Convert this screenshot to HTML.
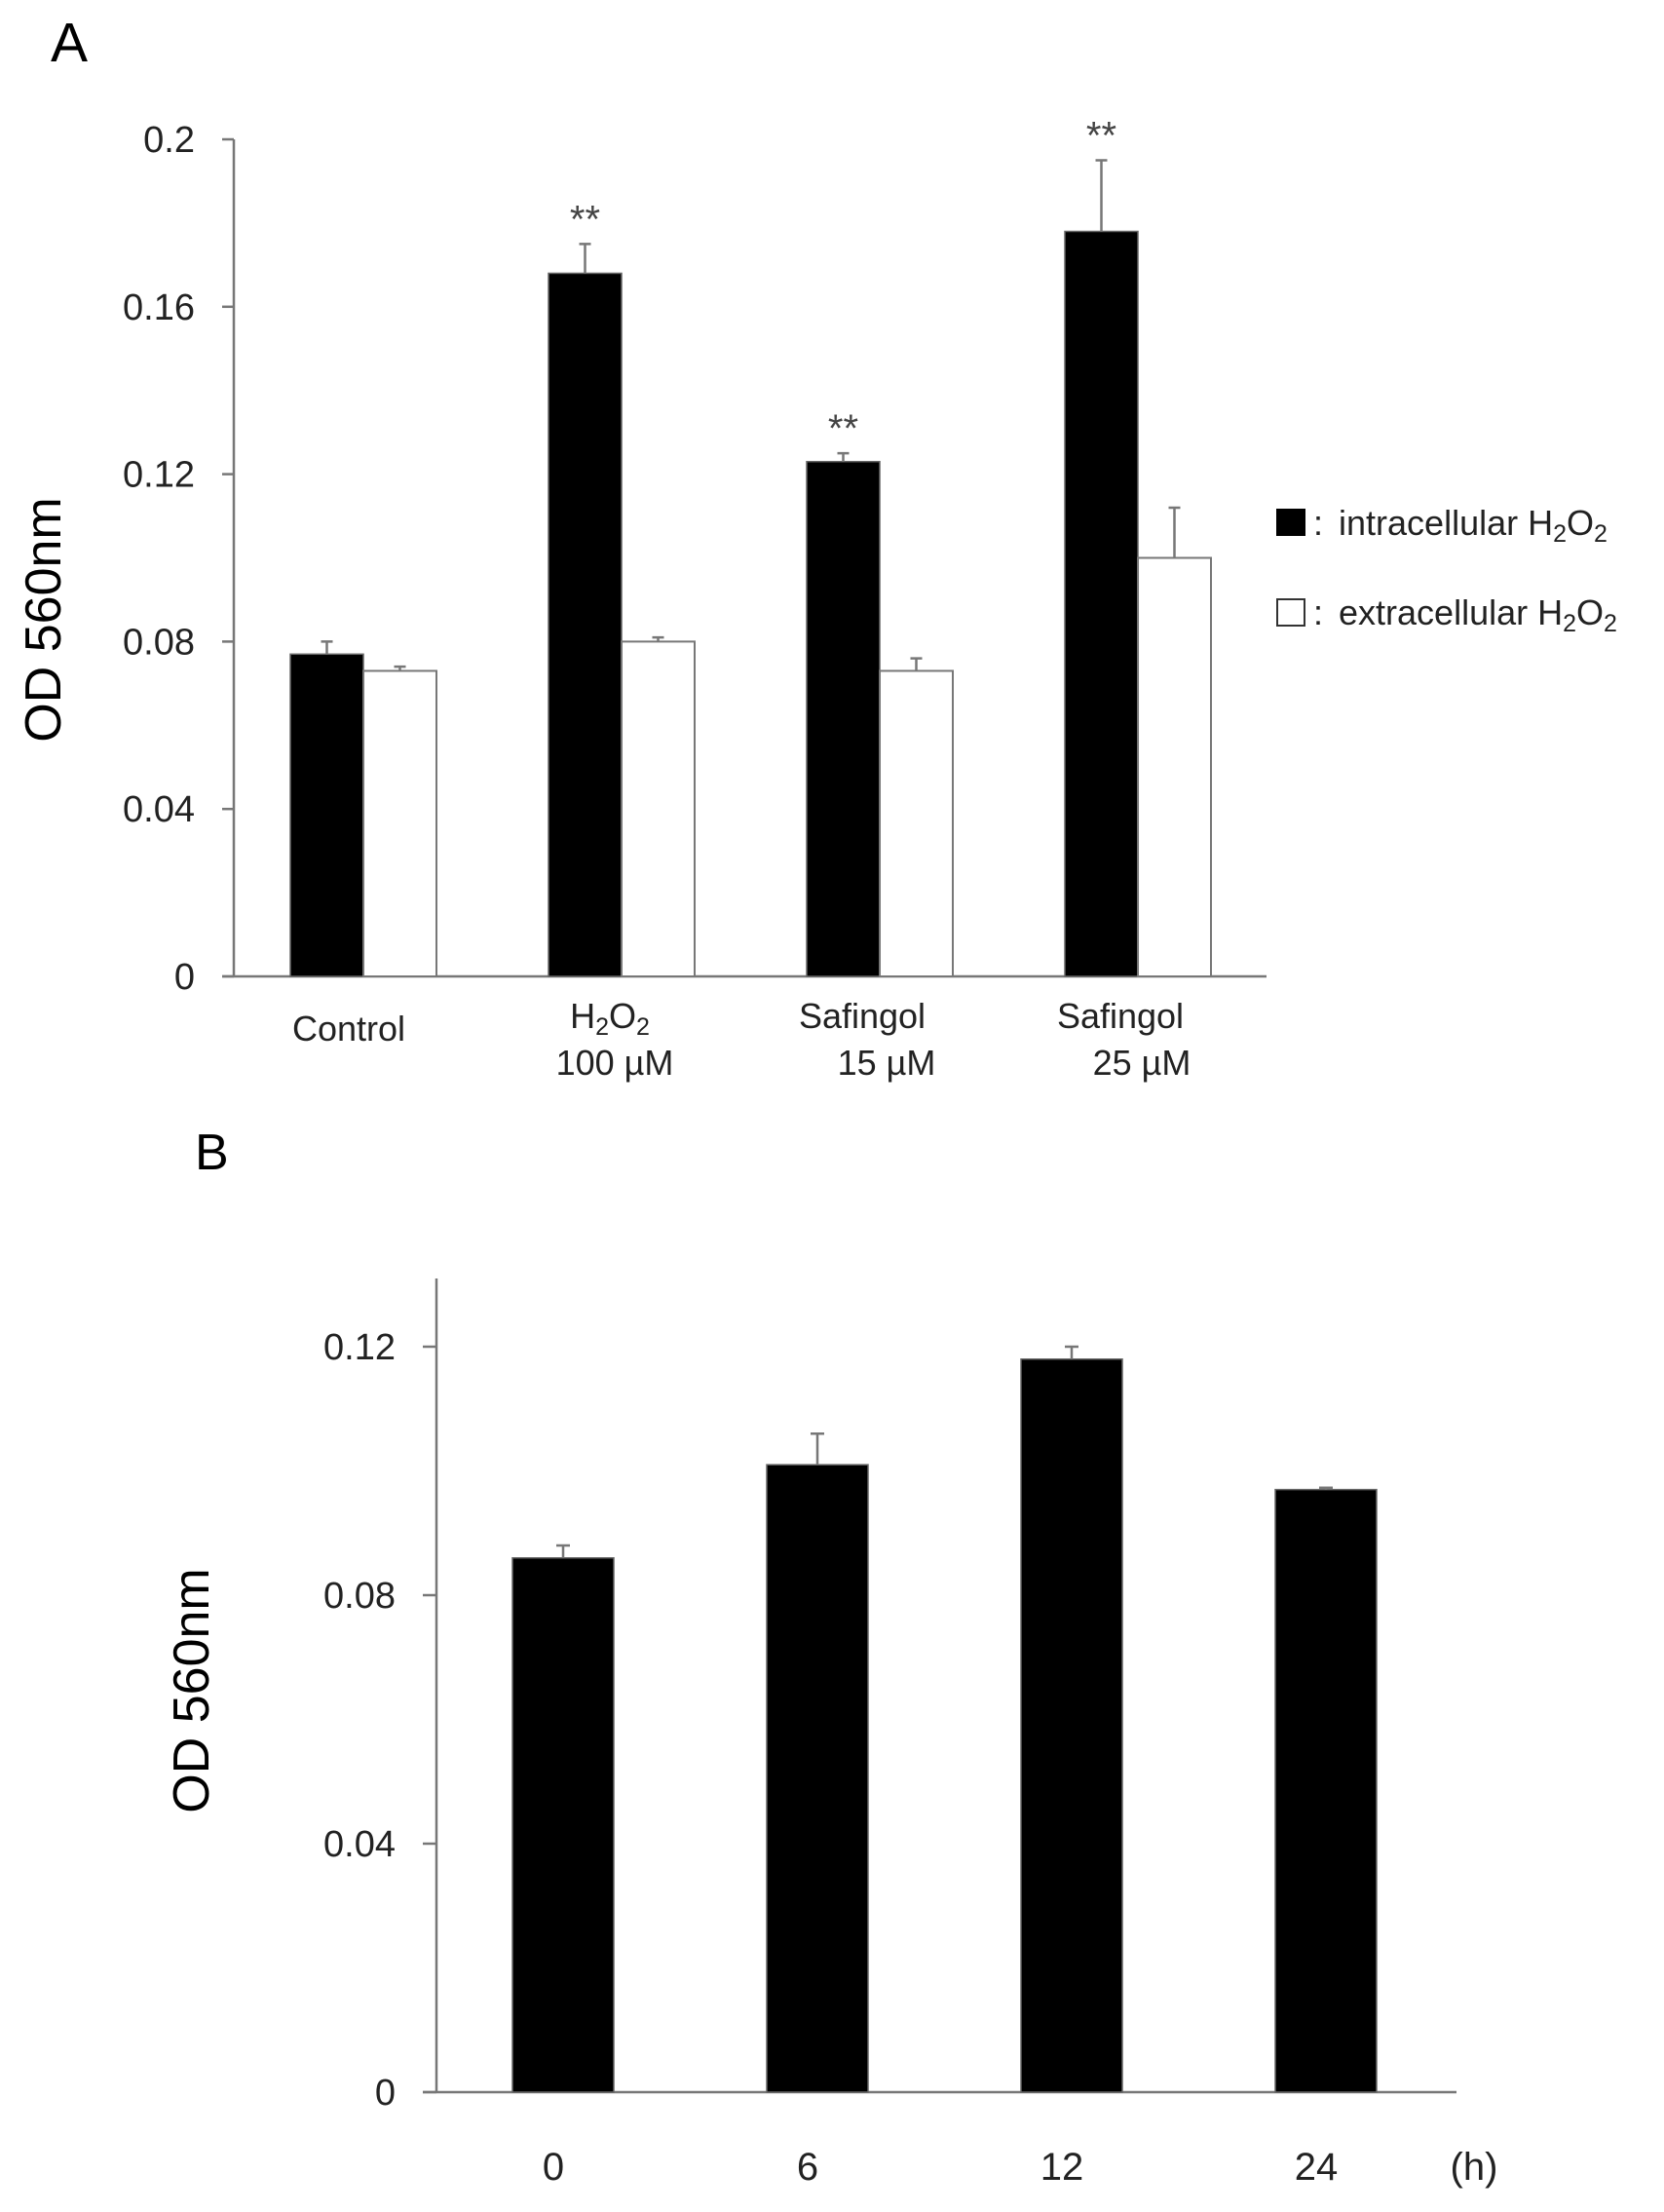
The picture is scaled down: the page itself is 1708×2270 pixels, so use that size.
<!DOCTYPE html>
<html><head><meta charset="utf-8"><style>
html,body{margin:0;padding:0;background:#fff;}
svg{display:block;font-family:"Liberation Sans",Arial,sans-serif;}
</style></head><body>
<svg id="fig" width="1708" height="2270" viewBox="0 0 1708 2270" xmlns="http://www.w3.org/2000/svg">
<text x="52" y="63" font-size="57">A</text>
<text x="200" y="1200" font-size="52">B</text>
<text transform="translate(62,636) rotate(-90)" font-size="52" text-anchor="middle">OD 560nm</text>
<text transform="translate(214,1735) rotate(-90)" font-size="52" text-anchor="middle">OD 560nm</text>
<g id="gA"></g>
<g id="gB"></g>
<g>
<g>
<rect x="1310" y="522" width="30" height="28" fill="#000"/>
<text x="1348" y="549" font-size="36" fill="#222">: <tspan dx="6">intracellular H</tspan><tspan font-size="25" dy="7">2</tspan><tspan dy="-7">O</tspan><tspan font-size="25" dy="7">2</tspan></text>
</g>
<g>
<rect x="1311" y="615" width="28" height="27" fill="#fff" stroke="#333" stroke-width="2"/>
<text x="1348" y="641" font-size="36" fill="#222">: <tspan dx="6">extracellular H</tspan><tspan font-size="25" dy="7">2</tspan><tspan dy="-7">O</tspan><tspan font-size="25" dy="7">2</tspan></text>
</g>
</g>
</svg>
<script>
// ---- Chart A data ----
const catsA = ["Control","H2O2 100 µM","Safingol 15 µM","Safingol 25 µM"];
const intraA = [0.077,0.168,0.123,0.178];
const intraErrA = [0.003,0.007,0.002,0.017];
const extraA = [0.073,0.080,0.073,0.100];
const extraErrA = [0.001,0.001,0.003,0.012];
const sigA = ["","**","**","**"];
const ticksA = [0,0.04,0.08,0.12,0.16,0.2];
const tickLabelsA = ["0","0.04","0.08","0.12","0.16","0.2"];
// ---- Chart B data ----
const catsB = ["0","6","12","24"];
const valsB = [0.086,0.101,0.118,0.097];
const errB = [0.002,0.005,0.002,0.0003];
const ticksB = [0,0.04,0.08,0.12];
const tickLabelsB = ["0","0.04","0.08","0.12"];

const NS="http://www.w3.org/2000/svg";
function mk(tag,attrs,parent){const e=document.createElementNS(NS,tag);for(const k in attrs)e.setAttribute(k,attrs[k]);parent.appendChild(e);return e;}

// Chart A
(function(){
  const g=document.getElementById('gA');
  const x0=240,xEnd=1300,yZero=1002,yTop=143,vMax=0.2;
  const y=v=>yZero-(v/vMax)*(yZero-yTop);
  const cx=i=>373+i*265;
  const bw=75;
  let a=mk('line',{x1:x0,y1:yTop,x2:x0,y2:yZero,stroke:'#777','stroke-width':2.5},g);
  
  a=mk('line',{x1:x0-12,y1:yZero,x2:xEnd,y2:yZero,stroke:'#777','stroke-width':2.5},g);
  
  ticksA.forEach((t,i)=>{
    const tk=mk('line',{x1:x0-12,y1:y(t),x2:x0,y2:y(t),stroke:'#777','stroke-width':2.5},g);
    
    const tl=mk('text',{x:200,y:y(t)+13,'font-size':38,'text-anchor':'end',fill:'#222'},g);
    tl.textContent=tickLabelsA[i];
    
  });
  catsA.forEach((c,i)=>{
    const b=mk('rect',{x:cx(i)-bw,y:y(intraA[i]),width:bw,height:yZero-y(intraA[i]),fill:'#000',stroke:'#666','stroke-width':1.5},g);
    
    const w=mk('rect',{x:cx(i),y:y(extraA[i]),width:bw,height:yZero-y(extraA[i]),fill:'#fff',stroke:'#777','stroke-width':2},g);
    
    [[cx(i)-bw/2,intraA[i],intraErrA[i]],[cx(i)+bw/2,extraA[i],extraErrA[i]]].forEach(([ex,v,e])=>{
      const eb=mk('path',{d:`M${ex},${y(v)} V${y(v+e)} M${ex-6},${y(v+e)} H${ex+6}`,stroke:'#777','stroke-width':2.5,fill:'none'},g);
      
    });
    if(sigA[i]){
      const s=mk('text',{x:cx(i)-bw/2,y:y(intraA[i]+intraErrA[i])-12,'font-size':40,'text-anchor':'middle',fill:'#444'},g);
      s.textContent=sigA[i];
      
    }
  });
  const lab=(txt,x,yy,name)=>{const t=mk('text',{x:x,y:yy,'font-size':36,'text-anchor':'middle',fill:'#222'},g);t.textContent=txt;return t;};
  lab('Control',358,1068,'x-label-control');
  const h=mk('text',{x:626,y:1055,'font-size':36,'text-anchor':'middle',fill:'#222'},g);
  h.innerHTML='H<tspan font-size="25" dy="7">2</tspan><tspan dy="-7">O</tspan><tspan font-size="25" dy="7">2</tspan>';
  
  lab('100 µM',631,1103,'x-label-h2o2-dose');
  lab('Safingol',885,1055,'x-label-safingol-15');
  lab('15 µM',910,1103,'x-label-safingol-15-dose');
  lab('Safingol',1150,1055,'x-label-safingol-25');
  lab('25 µM',1172,1103,'x-label-safingol-25-dose');
})();

// Chart B
(function(){
  const g=document.getElementById('gB');
  const x0=448,xEnd=1495,yZero=2147,y12=1382,yTop=1312;
  const y=v=>yZero-(v/0.12)*(yZero-y12);
  const cx=i=>578+i*261;
  const bw=104;
  let a=mk('line',{x1:x0,y1:yTop,x2:x0,y2:yZero,stroke:'#777','stroke-width':2.5},g);
  
  a=mk('line',{x1:x0-14,y1:yZero,x2:xEnd,y2:yZero,stroke:'#777','stroke-width':2.5},g);
  
  ticksB.forEach((t,i)=>{
    const tk=mk('line',{x1:x0-14,y1:y(t),x2:x0,y2:y(t),stroke:'#777','stroke-width':2.5},g);
    
    const tl=mk('text',{x:406,y:y(t)+13,'font-size':38,'text-anchor':'end',fill:'#222'},g);
    tl.textContent=tickLabelsB[i];
    
  });
  catsB.forEach((c,i)=>{
    const b=mk('rect',{x:cx(i)-bw/2,y:y(valsB[i]),width:bw,height:yZero-y(valsB[i]),fill:'#000',stroke:'#666','stroke-width':1.5},g);
    
    const ex=cx(i);
    const eb=mk('path',{d:`M${ex},${y(valsB[i])} V${y(valsB[i]+errB[i])} M${ex-7},${y(valsB[i]+errB[i])} H${ex+7}`,stroke:'#777','stroke-width':2.5,fill:'none'},g);
    
    const t=mk('text',{x:cx(i)-10,y:2237,'font-size':40,'text-anchor':'middle',fill:'#222'},g);
    t.textContent=c;
    
  });
  const u=mk('text',{x:1513,y:2237,'font-size':40,'text-anchor':'middle',fill:'#222'},g);
  u.textContent='(h)';
  
})();
</script>
</body></html>
